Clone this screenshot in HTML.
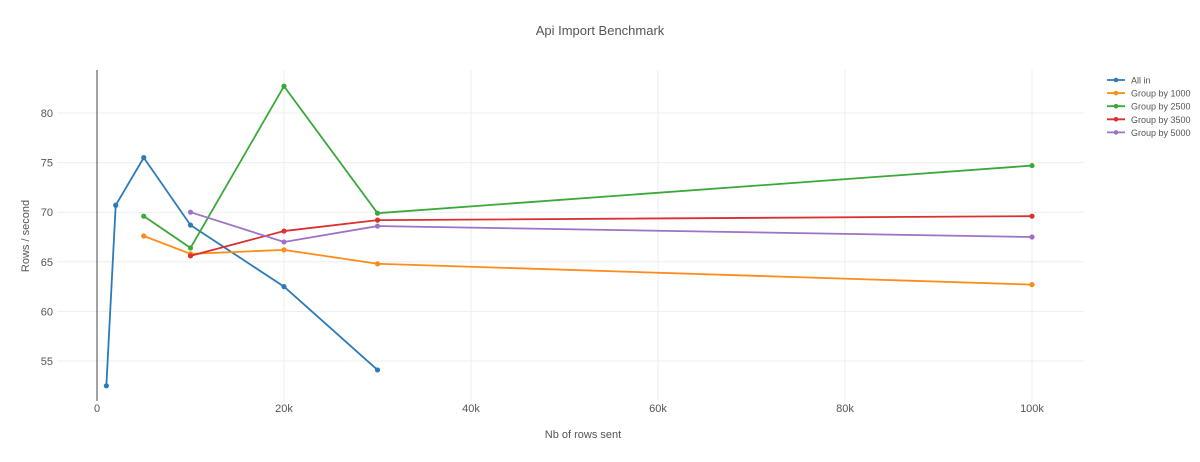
<!DOCTYPE html>
<html><head><meta charset="utf-8"><style>
body{margin:0;background:#fff;font-family:"Liberation Sans",sans-serif}
svg text{font-family:"Liberation Sans",sans-serif;fill:#555}
</style></head><body>
<svg id="chart" width="1200" height="457" xmlns="http://www.w3.org/2000/svg">
<text x="600" y="35" text-anchor="middle" font-size="13">Api Import Benchmark</text>
<g id="grid"></g><g id="series"></g><g id="legend"></g>
<text x="583" y="438" text-anchor="middle" font-size="11">Nb of rows sent</text>
<text x="0" y="0" transform="translate(29,236) rotate(-90)" text-anchor="middle" font-size="11">Rows / second</text>
</svg>
<script>
const seriesNames=["All in","Group by 1000","Group by 2500","Group by 3500","Group by 5000"];
const colors=["#2b7bba","#ff8c1a","#3aa83a","#d93030","#9e72c4"];
const xAllIn=[1000,2000,5000,10000,20000,30000];
const yAllIn=[52.5,70.7,75.5,68.7,62.5,54.1];
const xG1000=[5000,10000,20000,30000,100000];
const yG1000=[67.6,65.8,66.2,64.8,62.7];
const xG2500=[5000,10000,20000,30000,100000];
const yG2500=[69.6,66.4,82.7,69.9,74.7];
const xG3500=[10000,20000,30000,100000];
const yG3500=[65.6,68.1,69.2,69.6];
const xG5000=[10000,20000,30000,100000];
const yG5000=[70.0,67.0,68.6,67.5];
const xTicks=[0,20000,40000,60000,80000,100000];
const xTickLabels=["0","20k","40k","60k","80k","100k"];
const yTicks=[55,60,65,70,75,80];
const NS="http://www.w3.org/2000/svg";
function sx(v){return 97+v*0.00935;}
function sy(v){return 113+(80-v)*9.92;}
function mk(t,a,p){const e=document.createElementNS(NS,t);for(const k in a)e.setAttribute(k,a[k]);p.appendChild(e);return e;}
const grid=document.getElementById('grid');
yTicks.forEach(v=>{
 const l=mk('line',{x1:57,x2:1084,y1:sy(v),y2:sy(v),stroke:'#eee'},grid);
 
 
 const t=mk('text',{x:53,y:sy(v)+4,'text-anchor':'end','font-size':11},grid);t.textContent=v;
 
 
});
xTicks.forEach((v,i)=>{
 if(v>0){const l=mk('line',{x1:sx(v),x2:sx(v),y1:70,y2:401,stroke:'#eee'},grid);
 
 }
 const t=mk('text',{x:sx(v),y:412,'text-anchor':'middle','font-size':11},grid);t.textContent=xTickLabels[i];
 
 
});
const z=mk('line',{x1:sx(0),x2:sx(0),y1:70,y2:401,stroke:'#444','stroke-width':1},grid);


const xs=[xAllIn,xG1000,xG2500,xG3500,xG5000],ys=[yAllIn,yG1000,yG2500,yG3500,yG5000];
const sg=document.getElementById('series'),lg=document.getElementById('legend');
xs.forEach((xa,i)=>{
 const g=mk('g',{},sg);
 
 
 const pts=xa.map((x,j)=>sx(x)+','+sy(ys[i][j])).join(' ');
 const pl=mk('polyline',{points:pts,fill:'none',stroke:colors[i],'stroke-width':1.8},g);
 
 
 xa.forEach((x,j)=>{const c=mk('circle',{cx:sx(x),cy:sy(ys[i][j]),r:2.6,fill:colors[i]},g);
  
  });
 const ly=80+i*13.1;
 const le=mk('g',{},lg);
 
 
 mk('line',{x1:1107,x2:1125,y1:ly,y2:ly,stroke:colors[i],'stroke-width':1.8},le);
 mk('circle',{cx:1116,cy:ly,r:2.3,fill:colors[i]},le);
 const t=mk('text',{x:1131,y:ly+3.5,'font-size':9},le);t.textContent=seriesNames[i];
});
</script>
</body></html>
